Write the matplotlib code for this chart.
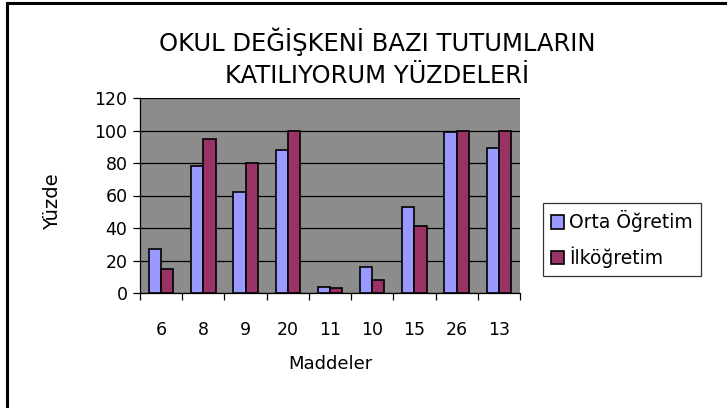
"""
Grouped bar chart: agreement percentages for school variable items.
"""

import matplotlib
matplotlib.use('Agg')
import matplotlib.pyplot as plt
import numpy as np
from matplotlib.patches import Rectangle


ITEMS = ['6', '8', '9', '20', '11', '10', '15', '26', '13']

ORTA_OGRETIM = [27, 78, 62, 88, 4, 16, 53, 99, 89]

ILKOGRETIM = [15, 95, 80, 100, 3, 8, 41, 100, 100]

SERIES_NAMES = ['Orta Öğretim', 'İlköğretim']

TITLE = 'OKUL DEĞİŞKENİ BAZI TUTUMLARIN\nKATILIYORUM YÜZDELERİ'


def main():

    plt.rcParams['font.family'] = ['DejaVu Sans']

    fig = plt.figure(figsize=(7.27, 4.08), dpi=100)

    # Chart border: left and top edges visible, right and bottom cut off.
    fig.patches.append(Rectangle(
        (7 / 727, -0.1), 1.1, 1.1 - 3 / 408, transform=fig.transFigure,
        fill=False, edgecolor='black', linewidth=2.2))

    axes = fig.add_axes([140 / 727, 1 - 293 / 408, 380 / 727, 195 / 408])
    axes.set_facecolor('#8c8c8c')

    x = np.arange(len(ITEMS))
    width = 0.29
    axes.bar(x - width / 2, ORTA_OGRETIM, width, color='#9999ff',
             edgecolor='black', linewidth=1.2, label=SERIES_NAMES[0], zorder=3)
    axes.bar(x + width / 2, ILKOGRETIM, width, color='#993366',
             edgecolor='black', linewidth=1.2, label=SERIES_NAMES[1], zorder=3)

    axes.set_xlim(-0.5, len(ITEMS) - 0.5)
    axes.set_ylim(0, 120)
    axes.set_yticks(range(0, 121, 20))
    axes.yaxis.grid(True, color='black', linewidth=0.9, zorder=1)
    axes.set_axisbelow(True)

    axes.set_xticks(x)
    axes.set_xticklabels(ITEMS)
    axes.set_xticks(np.arange(len(ITEMS) + 1) - 0.5, minor=True)
    axes.tick_params(axis='x', which='major', length=0, pad=20, labelsize=12.5)
    axes.tick_params(axis='x', which='minor', length=5, width=0.9)
    axes.tick_params(axis='y', length=5, width=0.9, labelsize=12.5, pad=4)

    for side in ('top', 'right'):
        axes.spines[side].set_visible(False)
    axes.spines['left'].set_linewidth(0.9)
    axes.spines['bottom'].set_linewidth(0.9)

    axes.set_xlabel('Maddeler', fontsize=13, labelpad=12)
    axes.set_ylabel('Yüzde', fontsize=14)
    axes.yaxis.set_label_coords(-0.205, 0.47)

    fig.text(377 / 727, 1 - 58 / 408, TITLE, ha='center', va='center',
             fontsize=17.5, linespacing=1.4)

    legend = fig.legend(loc='upper left', bbox_to_anchor=(543 / 727, 1 - 203 / 408),
                        fontsize=13.5, frameon=True, fancybox=False,
                        handlelength=0.7, handleheight=0.7, handletextpad=0.3,
                        borderpad=0.4, labelspacing=0.75, borderaxespad=0)
    legend.get_frame().set_edgecolor('black')
    legend.get_frame().set_linewidth(0.9)

    fig.savefig('out.png', dpi=100)
    plt.close(fig)


if __name__ == '__main__':
    main()
